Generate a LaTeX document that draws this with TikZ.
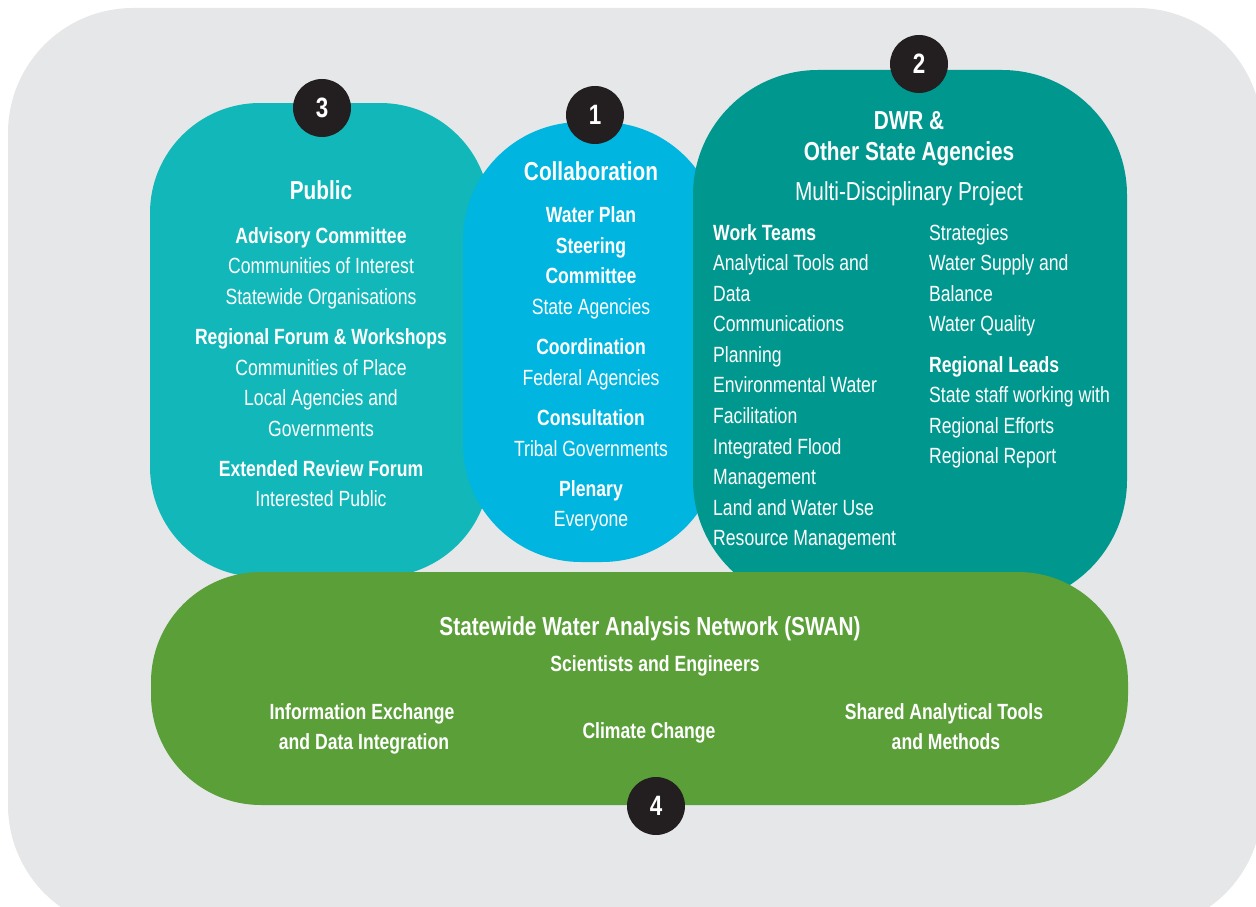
\documentclass[tikz,border=0pt]{standalone}
\usepackage{fontspec}
\setmainfont{Liberation Sans}[FakeStretch=0.8]
\definecolor{bggray}{HTML}{E6E7E8}
\definecolor{pubteal}{HTML}{12B8B9}
\definecolor{collcyan}{HTML}{00B5DF}
\definecolor{dwrteal}{HTML}{00988E}
\definecolor{swangreen}{HTML}{5A9F38}
\definecolor{badgeblack}{HTML}{231F20}
\tikzset{
  blob/.style={draw=none, inner sep=0pt, rectangle},
  badge/.style={circle, fill=badgeblack, text=white, minimum size=58pt, inner sep=0pt, font=\fontsize{28}{32}\selectfont\bfseries},
  txt/.style={text=white, inner sep=0pt, text height=0.72em, text depth=0pt, yshift=-5pt, font=\fontsize{22}{26}\selectfont},
  btxt/.style={txt, font=\fontsize{22}{26}\selectfont\bfseries},
  ttl/.style={txt, font=\fontsize{26}{30}\selectfont\bfseries},
  sub/.style={txt, font=\fontsize{26}{30}\selectfont},
}
\begin{document}
\begin{tikzpicture}[x=1pt, y=-1pt]
\useasboundingbox (0,0) rectangle (1256,907);
% background
\fill[bggray, rounded corners=125pt] (8,8) rectangle (1262,930);
% boxes
\node[blob, fill=pubteal, rounded corners=110pt, minimum width=340pt, minimum height=474pt] (public) at (320,340) {};
\node[blob, fill=collcyan, rounded corners=118pt, minimum width=257pt, minimum height=440pt] (collab) at (591.5,342) {};
\node[blob, fill=dwrteal, rounded corners=125pt, minimum width=434pt, minimum height=535pt] (dwr) at (910,337.5) {};
\node[blob, fill=swangreen, rounded corners=110pt, minimum width=977pt, minimum height=233pt] (swan) at (639.5,688.5) {};
% badges
\node[badge] (b3) at (322,108) {3};
\node[badge] (b1) at (595,115) {1};
\node[badge] (b2) at (919,64) {2};
\node[badge] (b4) at (656,806) {4};
% public
\node[ttl] (pubt) at (321,191) {Public};
\foreach \t/\y [count=\i] in {{\bfseries Advisory Committee}/235, Communities of Interest/265, Statewide Organisations/296, {\bfseries Regional Forum \& Workshops}/336, Communities of Place/367, Local Agencies and/397, Governments/428, {\bfseries Extended Review Forum}/468, Interested Public/498}
  \node[txt] (pub\i) at (321,\y) {\t};
% collaboration
\node[ttl] (colt) at (591,172) {Collaboration};
\foreach \t/\y [count=\i] in {{\bfseries Water Plan}/214, {\bfseries Steering}/245, {\bfseries Committee}/275, State Agencies/306, {\bfseries Coordination}/346, Federal Agencies/377, {\bfseries Consultation}/417, Tribal Governments/448, {\bfseries Plenary}/488, Everyone/518}
  \node[txt] (col\i) at (591,\y) {\t};
% DWR
\node[ttl] (dwrt1) at (909,121) {DWR \&};
\node[ttl] (dwrt2) at (909,152) {Other State Agencies};
\node[sub] (dwrs) at (909,192) {Multi-Disciplinary Project};
\foreach \t/\y [count=\i] in {{\bfseries Work Teams}/232, Analytical Tools and/262, Data/293, Communications/323, Planning/354, Environmental Water/384, Facilitation/415, Integrated Flood/446, Management/476, Land and Water Use/507, Resource Management/537}
  \node[txt, anchor=west] (dl\i) at (713,\y) {\t};
\foreach \t/\y [count=\i] in {Strategies/232, Water Supply and/262, Balance/293, Water Quality/323, {\bfseries Regional Leads}/364, State staff working with/394, Regional Efforts/425, Regional Report/455}
  \node[txt, anchor=west] (dr\i) at (929,\y) {\t};
% SWAN
\node[ttl] (swt) at (650,627) {Statewide Water Analysis Network (SWAN)};
\node[btxt] (sws) at (655,663) {Scientists and Engineers};
\node[btxt] (sw1a) at (362,711) {Information Exchange};
\node[btxt] (sw1b) at (364,741) {and Data Integration};
\node[btxt] (sw2) at (649,730) {Climate Change};
\node[btxt] (sw3a) at (944,711) {Shared Analytical Tools};
\node[btxt] (sw3b) at (946,741) {and Methods};
\end{tikzpicture}
\end{document}
